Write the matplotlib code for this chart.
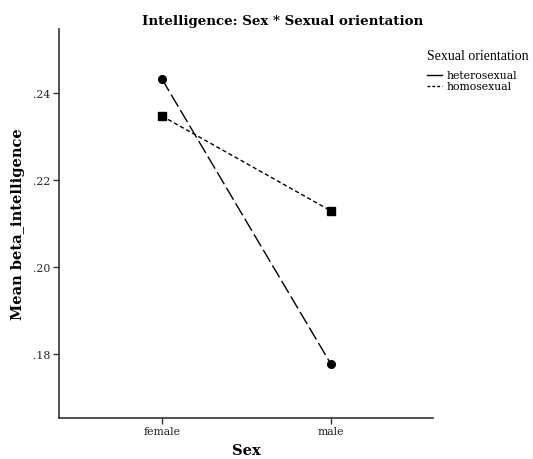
import matplotlib
matplotlib.use("Agg")
import matplotlib.pyplot as plt
from matplotlib.lines import Line2D

sex = ["female", "male"]
hetero = [0.2432, 0.1777]
homo = [0.2347, 0.2129]
yticks = [0.18, 0.20, 0.22, 0.24]
ytick_labels = [".18", ".20", ".22", ".24"]

plt.rcParams['font.family'] = ['DejaVu Serif']

fig = plt.figure(figsize=(5.33, 4.6), dpi=100)
ax = fig.add_axes([59/533, 41/460, 374/533, 389/460])

x = list(range(len(sex)))
ax.plot(x, hetero, color='black', lw=1, dashes=(10, 3), marker='o', markersize=5.5)
ax.plot(x, homo, color='black', lw=1, dashes=(3, 2), marker='s', markersize=6)

ax.set_xlim(-0.609, 1.604)
ax.set_ylim(0.1653, 0.2547)
ax.set_xticks(x)
ax.set_xticklabels(sex, fontsize=7.8, color='#222222')
ax.set_yticks(yticks)
ax.set_yticklabels(ytick_labels, fontsize=7.8, color='#222222')
for s in ['top', 'right']:
    ax.spines[s].set_visible(False)
for s in ['left', 'bottom']:
    ax.spines[s].set_color('#333333')
    ax.spines[s].set_linewidth(1.2)
ax.tick_params(length=4, width=1, color='#333333', pad=2)

ax.set_xlabel("Sex", fontsize=10.5, fontweight='bold', labelpad=5)
ax.set_ylabel("Mean beta_intelligence", fontsize=10.5, fontweight='bold', labelpad=6)
fig.text(283/533, 1 - 22/460, "Intelligence: Sex * Sexual orientation",
         ha='center', va='center', fontsize=9.6, fontweight='bold')

handles = [Line2D([], [], color='black', lw=1),
           Line2D([], [], color='black', lw=1, dashes=(2, 1.5))]
leg = fig.legend(handles, ["heterosexual", "homosexual"], title="Sexual orientation",
                 loc='upper left', bbox_to_anchor=(427/533, 1 - 50/460),
                 frameon=False, fontsize=7.8,
                 title_fontproperties={'family': 'Liberation Serif', 'size': 10},
                 handlelength=1.4, handletextpad=0.4, labelspacing=0.1,
                 borderaxespad=0, borderpad=0)
leg._legend_box.align = "left"
leg._legend_box.sep = 6
leg._legend_handle_box.set_offset(lambda *a: (5, 0)) if False else None

fig.savefig("out.png", dpi=100)
